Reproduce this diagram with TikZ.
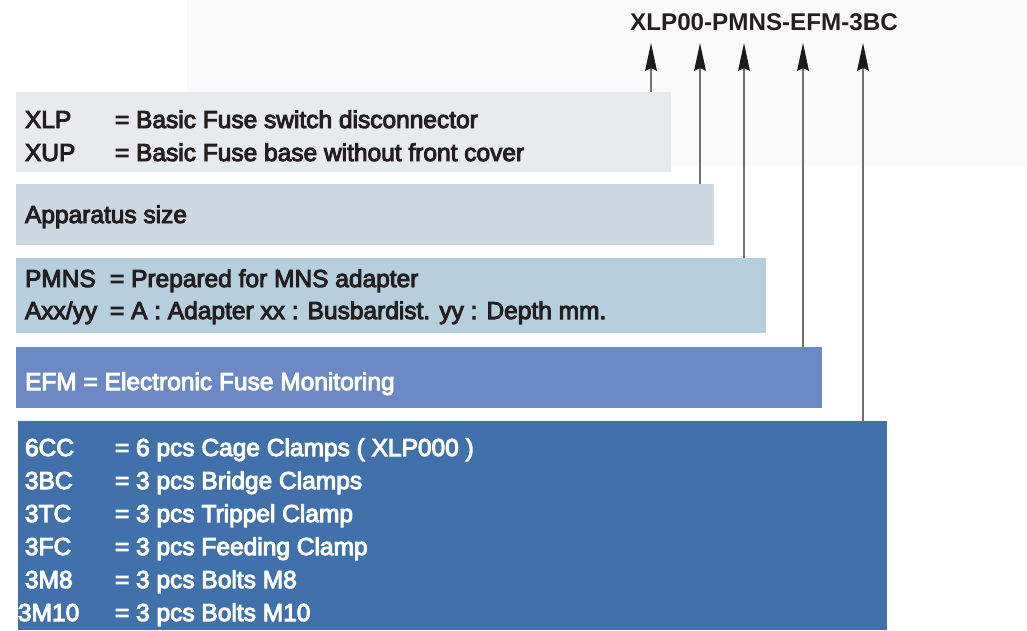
\documentclass[tikz,border=0pt]{standalone}
\usepackage{fontspec}
\setmainfont{Liberation Sans}
\newfontfamily\bodyf{Liberation Sans}[FakeBold=4]
\newfontfamily\titlef{Liberation Sans}
\usetikzlibrary{arrows.meta}
\definecolor{bgreg}{HTML}{FAFAFA}
\definecolor{cA}{HTML}{E8EAEE}
\definecolor{cB}{HTML}{CDD8E3}
\definecolor{cC}{HTML}{B6CFDE}
\definecolor{cD}{HTML}{6B89C4}
\definecolor{cE}{HTML}{4071AA}
\definecolor{ink}{HTML}{231F20}
\definecolor{arrgray}{HTML}{707070}
\definecolor{arrhead}{HTML}{1C1C1C}
\begin{document}
\begin{tikzpicture}[x=1pt,y=-1pt,
  box/.style={anchor=north west, inner sep=0pt, outer sep=0pt, draw=none},
  txt/.style={anchor=base west, inner sep=0pt, outer sep=0pt, text=ink, font=\bodyf\fontsize{24.5}{28}\selectfont},
  wtxt/.style={txt, text=white},
  ttl/.style={anchor=base west, inner sep=0pt, text=ink, font=\titlef\bfseries\fontsize{24.2}{28}\selectfont},
  arr/.style={draw=arrgray, line width=2pt, -{Stealth[length=28pt,width=12pt,inset=3pt,line width=0pt,color=arrhead]}}
]
\fill[white] (0,0) rectangle (1027,630);
\useasboundingbox (0,0) rectangle (1027,630);
\fill[bgreg] (187,0) rectangle (1027,166);

% boxes
\node[box, fill=cA, minimum width=655pt, minimum height=80pt] (b1) at (16,92) {};
\node[box, fill=cB, minimum width=698pt, minimum height=61pt] (b2) at (16,184) {};
\node[box, fill=cC, minimum width=750pt, minimum height=75pt] (b3) at (16,258) {};
\node[box, fill=cD, minimum width=806pt, minimum height=61pt] (b4) at (16,347) {};
\node[box, fill=cE, minimum width=869pt, minimum height=209pt] (b5) at (18,421) {};

% title
\node[ttl] (title) at (630,30) {XLP00-PMNS-EFM-3BC};

% arrows
\coordinate (h1) at (651,43);
\coordinate (h2) at (700,43);
\coordinate (h3) at (744,43);
\coordinate (h4) at (803,43);
\coordinate (h5) at (863,43);
\draw[arr] (b1.north west -| h1) -- (h1);
\draw[arr] (b2.north west -| h2) -- (h2);
\draw[arr] (b3.north west -| h3) -- (h3);
\draw[arr] (b4.north west -| h4) -- (h4);
\draw[arr] (b5.north west -| h5) -- (h5);

% box 1
\node[txt] (k1) at (25,128) {XLP};
\node[txt] (v1) at (115,128) {= Basic Fuse switch disconnector};
\node[txt] (k2) at (25,161) {XUP};
\node[txt] (v2) at (115,161) {= Basic Fuse base without front cover};
% box 2
\node[txt] (k3) at (25,223) {Apparatus size};
% box 3
\node[txt] (k4) at (25,287) {PMNS};
\node[txt] (v4) at (110,287) {= Prepared for MNS adapter};
\node[txt] (k5) at (25,319) {Axx/yy};
\node[txt] (v5) at (110,319) {= A : Adapter xx : Busbardist. yy : Depth mm.};
% box 4
\node[wtxt] (k6) at (25,390) {EFM = Electronic Fuse Monitoring};
% box 5
\node[wtxt] (e1) at (25,456) {6CC};
\node[wtxt] (f1) at (115,456) {= 6 pcs Cage Clamps ( XLP000 )};
\node[wtxt] (e2) at (25,489) {3BC};
\node[wtxt] (f2) at (115,489) {= 3 pcs Bridge Clamps};
\node[wtxt] (e3) at (25,522) {3TC};
\node[wtxt] (f3) at (115,522) {= 3 pcs Trippel Clamp};
\node[wtxt] (e4) at (25,555) {3FC};
\node[wtxt] (f4) at (115,555) {= 3 pcs Feeding Clamp};
\node[wtxt] (e5) at (25,588) {3M8};
\node[wtxt] (f5) at (115,588) {= 3 pcs Bolts M8};
\node[wtxt] (e6) at (18,621) {3M10};
\node[wtxt] (f6) at (115,621) {= 3 pcs Bolts M10};
\end{tikzpicture}
\end{document}
